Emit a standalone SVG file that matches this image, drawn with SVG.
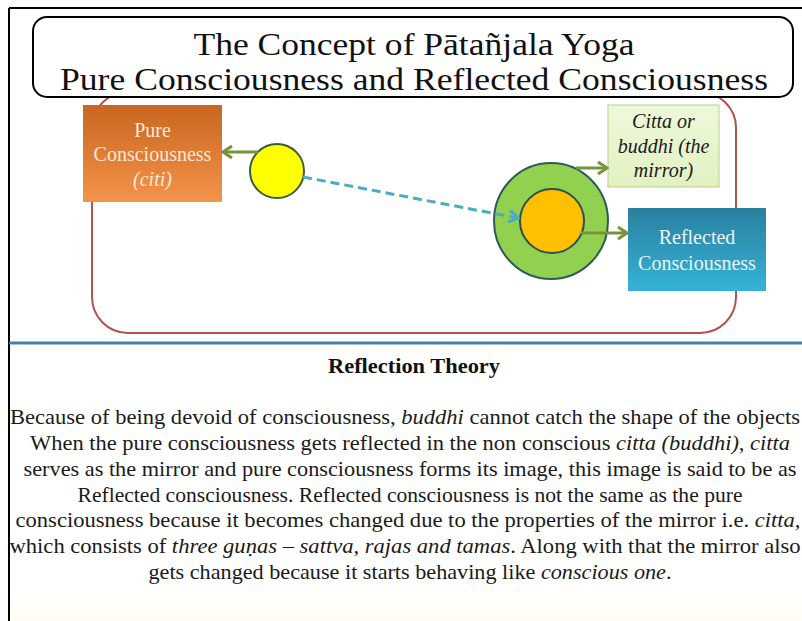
<svg xmlns="http://www.w3.org/2000/svg" width="802" height="621" viewBox="0 0 802 621">
<style>
text{font-family:"Liberation Serif","DejaVu Serif","Noto Serif",serif}
.title{font-size:31px;fill:#111;text-anchor:middle}
.lbl{font-size:20px;text-anchor:middle}
.body{font-size:22px;fill:#1a1a1a;text-anchor:middle}
.green{stroke:#77933c;stroke-width:3;fill:none}
</style>
<defs>
<linearGradient id="gOrange" x1="0" y1="0" x2="0" y2="1">
<stop offset="0" stop-color="#c9661f"/><stop offset="1" stop-color="#f4934a"/>
</linearGradient>
<linearGradient id="gTeal" x1="0" y1="0" x2="0" y2="1">
<stop offset="0" stop-color="#2a7f9f"/><stop offset="1" stop-color="#36b3d8"/>
</linearGradient>
<linearGradient id="gLight" x1="0" y1="0" x2="0" y2="1">
<stop offset="0" stop-color="#eef8da"/><stop offset="1" stop-color="#e2f1c2"/>
</linearGradient>
<linearGradient id="gBottom" x1="0" y1="0" x2="0" y2="1">
<stop offset="0" stop-color="#ffffff"/><stop offset="0.88" stop-color="#ffffff"/><stop offset="1" stop-color="#fffdf3"/>
</linearGradient>
<marker id="aGreen" markerUnits="userSpaceOnUse" viewBox="0 0 12 14" refX="10" refY="7" markerWidth="12" markerHeight="14" orient="auto">
<path d="M1,1 L10,7 L1,13" fill="none" stroke="#77933c" stroke-width="3"/>
</marker>
<marker id="aBlue" markerUnits="userSpaceOnUse" viewBox="0 0 12 14" refX="10" refY="7" markerWidth="12" markerHeight="14" orient="auto">
<path d="M1,1 L10,7 L1,13" fill="none" stroke="#4bacc6" stroke-width="3"/>
</marker>
</defs>
<rect x="0" y="0" width="802" height="621" fill="#ffffff"/>
<rect x="9" y="344" width="793" height="277" fill="url(#gBottom)"/>
<line x1="9" y1="8" x2="802" y2="8" stroke="#000" stroke-width="2"/>
<line x1="9" y1="8" x2="9" y2="621" stroke="#000" stroke-width="2"/>

<g id="frame">
<rect x="92" y="92" width="644" height="241" rx="36" fill="none" stroke="#b5504e" stroke-width="2"/>
</g>

<g id="title">
<rect x="33" y="17" width="760" height="80" rx="14" fill="#ffffff" stroke="#000" stroke-width="2"/>
<text class="title" x="414" y="55" textLength="441" lengthAdjust="spacingAndGlyphs">The Concept of Pātañjala Yoga</text>
<text class="title" x="414" y="90" textLength="708" lengthAdjust="spacingAndGlyphs">Pure Consciousness and Reflected Consciousness</text>
</g>

<g id="pure-consciousness">
<rect x="83" y="105" width="139" height="97" fill="url(#gOrange)"/>
<text class="lbl" fill="#fbe9da" x="152.5" y="137">Pure</text>
<text class="lbl" fill="#fbe9da" x="152.5" y="161">Consciousness</text>
<text class="lbl" fill="#fbe9da" x="152.5" y="186" font-style="italic">(citi)</text>
</g>

<g id="yellow-circle">
<circle cx="277" cy="171" r="27" fill="#ffff00" stroke="#3b5a3a" stroke-width="2"/>
</g>

<g id="mirror-circle">
<ellipse cx="551" cy="221" rx="57" ry="58" fill="#92d050" stroke="#2e5a5a" stroke-width="2"/>
<circle cx="552" cy="221" r="32" fill="#ffc000" stroke="#2e4f4f" stroke-width="2"/>
</g>

<g id="citta">
<rect x="608" y="105" width="111" height="82" fill="url(#gLight)" stroke="#b5d38a" stroke-width="1"/>
<text class="lbl" fill="#1a1a1a" font-style="italic" x="663.5" y="128">Citta or</text>
<text class="lbl" fill="#1a1a1a" font-style="italic" x="663.5" y="153">buddhi (the</text>
<text class="lbl" fill="#1a1a1a" font-style="italic" x="663.5" y="177">mirror)</text>
</g>

<g id="reflected-consciousness">
<rect x="628" y="208" width="138" height="83" fill="url(#gTeal)"/>
<text class="lbl" fill="#e8f5f9" x="697" y="244">Reflected</text>
<text class="lbl" fill="#e8f5f9" x="697" y="270">Consciousness</text>
</g>

<g id="connectors">
<line class="green" x1="258" y1="152" x2="223" y2="152" marker-end="url(#aGreen)"/>
<line x1="303" y1="177" x2="518" y2="218" stroke="#4bacc6" stroke-width="3" stroke-dasharray="9,5" marker-end="url(#aBlue)"/>
<line class="green" x1="576" y1="168" x2="607" y2="168" marker-end="url(#aGreen)"/>
<line class="green" x1="581" y1="233" x2="627" y2="233" marker-end="url(#aGreen)"/>
</g>

<line x1="9" y1="343" x2="802" y2="343" stroke="#4a7ead" stroke-width="3"/>

<g id="reflection-theory">
<text x="414" y="373" font-size="21" font-weight="bold" text-anchor="middle" fill="#111" textLength="172" lengthAdjust="spacingAndGlyphs">Reflection Theory</text>
<text class="body" x="405" y="424" textLength="790" lengthAdjust="spacingAndGlyphs">Because of being devoid of consciousness, <tspan font-style="italic">buddhi</tspan> cannot catch the shape of the objects</text>
<text class="body" x="410" y="450" textLength="760" lengthAdjust="spacingAndGlyphs">When the pure consciousness gets reflected in the non conscious <tspan font-style="italic">citta (buddhi), citta</tspan></text>
<text class="body" x="410" y="476" textLength="773" lengthAdjust="spacingAndGlyphs">serves as the mirror and pure consciousness forms its image, this image is said to be as</text>
<text class="body" x="410" y="502" textLength="665" lengthAdjust="spacingAndGlyphs">Reflected consciousness. Reflected consciousness is not the same as the pure</text>
<text class="body" x="408" y="527" textLength="785" lengthAdjust="spacingAndGlyphs">consciousness because it becomes changed due to the properties of the mirror i.e. <tspan font-style="italic">citta</tspan>,</text>
<text class="body" x="405" y="553" textLength="791" lengthAdjust="spacingAndGlyphs">which consists of <tspan font-style="italic">three guṇas – sattva, rajas and tamas</tspan>. Along with that the mirror also</text>
<text class="body" x="410" y="579" textLength="523" lengthAdjust="spacingAndGlyphs">gets changed because it starts behaving like <tspan font-style="italic">conscious one</tspan>.</text>
</g>
</svg>
